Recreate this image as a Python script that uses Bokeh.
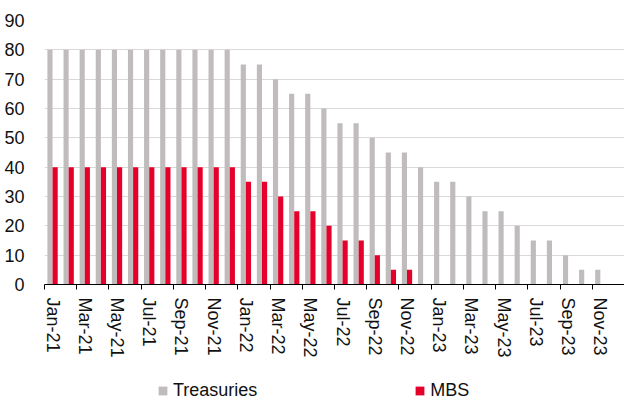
import math

from bokeh.embed import file_html
from bokeh.layouts import column
from bokeh.models import FixedTicker, Legend, LegendItem, Range1d, ColumnDataSource
from bokeh.plotting import figure
from bokeh.resources import INLINE
from bokeh.transform import dodge

# Monthly purchase pace (USD bn)
months = [
    "Jan-21", "Feb-21", "Mar-21", "Apr-21", "May-21", "Jun-21",
    "Jul-21", "Aug-21", "Sep-21", "Oct-21", "Nov-21", "Dec-21",
    "Jan-22", "Feb-22", "Mar-22", "Apr-22", "May-22", "Jun-22",
    "Jul-22", "Aug-22", "Sep-22", "Oct-22", "Nov-22", "Dec-22",
    "Jan-23", "Feb-23", "Mar-23", "Apr-23", "May-23", "Jun-23",
    "Jul-23", "Aug-23", "Sep-23", "Oct-23", "Nov-23", "Dec-23",
]
treasuries = [
    80, 80, 80, 80, 80, 80, 80, 80, 80, 80, 80, 80,
    75, 75, 70, 65, 65, 60, 55, 55, 50, 45, 45, 40,
    35, 35, 30, 25, 25, 20, 15, 15, 10, 5, 5, 0,
]
mbs = [
    40, 40, 40, 40, 40, 40, 40, 40, 40, 40, 40, 40,
    35, 35, 30, 25, 25, 20, 15, 15, 10, 5, 5, 0,
    0, 0, 0, 0, 0, 0, 0, 0, 0, 0, 0, 0,
]
y_ticks = [0, 10, 20, 30, 40, 50, 60, 70, 80, 90]
series_names = ["Treasuries", "MBS"]

GRAY = "#C0BCBC"
RED = "#E4002B"
FONT = "Liberation Sans"
TEXT = "#111111"

source = ColumnDataSource(dict(
    idx=list(range(len(months))),
    month=months,
    treasuries=treasuries,
    mbs=mbs,
))

p = figure(
    width=624, height=360,
    x_range=Range1d(-0.5, len(months) - 0.5),
    y_range=Range1d(0, 90),
    output_backend="svg", toolbar_location=None,
    min_border_left=44, min_border_right=0, min_border_top=20, min_border_bottom=75,
)
p.outline_line_color = None
p.background_fill_color = "white"
p.border_fill_color = "white"

p.vbar(x=dodge("idx", -0.16, range=p.x_range), top="treasuries", width=0.32,
       source=source, fill_color=GRAY, line_color=None)
p.vbar(x=dodge("idx", 0.16, range=p.x_range), top="mbs", width=0.32,
       source=source, fill_color=RED, line_color=None)

# x axis: labels on every other month, tick marks on the category boundaries
label_pos = list(range(0, len(months), 2))
boundaries = [i - 0.5 for i in range(0, len(months) + 1, 2)]
xa = p.xaxis[0]
xa.ticker = FixedTicker(ticks=label_pos, minor_ticks=boundaries)
xa.major_label_overrides = {i: months[i] for i in label_pos}
xa.major_label_orientation = -math.pi / 2
xa.major_tick_out = 0
xa.major_tick_in = 0
xa.minor_tick_out = 5
xa.minor_tick_in = 0
xa.minor_tick_line_color = "black"
xa.axis_line_color = "black"
xa.major_label_standoff = 8
xa.major_label_text_font = FONT
xa.major_label_text_font_size = "18px"
xa.major_label_text_color = TEXT

ya = p.yaxis[0]
ya.ticker = FixedTicker(ticks=y_ticks)
ya.axis_line_color = None
ya.major_tick_line_color = None
ya.minor_tick_line_color = None
ya.major_label_standoff = 14
ya.major_label_text_font = FONT
ya.major_label_text_font_size = "18px"
ya.major_label_text_color = TEXT

p.xgrid.grid_line_color = None
p.ygrid.ticker = FixedTicker(ticks=y_ticks)
p.ygrid.grid_line_color = "#D9D9D9"
p.ygrid.grid_line_width = 1

# legend strip under the chart (its frame lines up with the chart frame)
leg = figure(
    width=624, height=41,
    x_range=Range1d(0, 580), y_range=Range1d(0, 41),
    x_axis_type=None, y_axis_type=None,
    output_backend="svg", toolbar_location=None,
    min_border=0,
)
leg.outline_line_color = None
leg.grid.grid_line_color = None
# zero-height swatches far outside the strip, only used to style the legend entries
leg_t = leg.vbar(x=[-10000], top=[0], width=1, fill_color=GRAY, line_color=None)
leg_m = leg.vbar(x=[-10000], top=[0], width=1, fill_color=RED, line_color=None)

legend = Legend(
    items=[LegendItem(label=series_names[0], renderers=[leg_t]),
           LegendItem(label=series_names[1], renderers=[leg_m])],
    orientation="horizontal",
    location=(113, 0),
    glyph_width=11, glyph_height=11,
    label_standoff=5,
    spacing=157,
    padding=0, margin=0,
    border_line_color=None,
    background_fill_alpha=0,
    label_text_font=FONT,
    label_text_font_size="18px",
    label_text_color=TEXT,
)
leg.add_layout(legend, "center")

layout = column(p, leg, spacing=0)
open("out.html", "w").write(file_html(layout, INLINE))
